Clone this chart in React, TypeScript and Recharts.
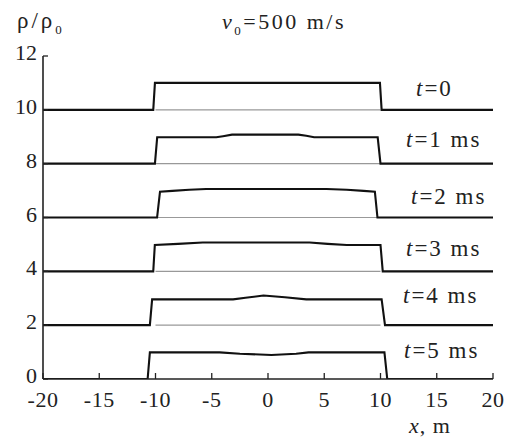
import React from "react";
import { LineChart, Line, XAxis, YAxis } from "recharts";

// x positions (m) and relative density values for each time
const x0 = [-20, -10.2, -10.05, 9.95, 10.1, 20];
const y0 = [10, 10, 11, 11, 10, 10];

const x1 = [-20, -10.05, -9.85, -4.6, -4.0, -3.2, 2.7, 3.4, 4.1, 9.75, 10.0, 20];
const y1 = [8, 8, 8.98, 8.98, 9.02, 9.08, 9.08, 9.04, 8.98, 8.98, 8, 8];

const x2 = [-20, -9.86, -9.6, -8.5, -7.0, -5.5, 5.2, 7.0, 8.5, 9.5, 9.73, 20];
const y2 = [6, 6, 6.96, 6.99, 7.03, 7.06, 7.06, 7.03, 6.99, 6.96, 6, 6];

const x3 = [-20, -10.2, -10.06, -8.0, -5.8, 3.7, 5.3, 7.0, 10.0, 10.2, 20];
const y3 = [4, 4, 4.98, 5.02, 5.07, 5.07, 5.02, 4.98, 4.98, 4, 4];

const x4 = [-20, -10.5, -10.3, -3.1, -2.0, -0.4, 1.5, 3.4, 10.1, 10.4, 20];
const y4 = [2, 2, 2.96, 2.96, 3.02, 3.1, 3.04, 2.96, 2.96, 2, 2];

const x5 = [-20, -10.7, -10.5, -4.3, -2.5, 0.3, 2.5, 3.6, 10.35, 10.6, 20];
const y5 = [0, 0, 0.99, 0.99, 0.94, 0.89, 0.94, 0.99, 0.99, 0, 0];

const seriesLabels = ["t=0", "t=1 ms", "t=2 ms", "t=3 ms", "t=4 ms", "t=5 ms"];
const xTicks = [-20, -15, -10, -5, 0, 5, 10, 15, 20];
const yTicks = [0, 2, 4, 6, 8, 10, 12];
const gridLevels = [2, 4, 6, 8, 10];
const gridX = [-10, 10];

const toPts = (xs: number[], ys: number[]) => xs.map((x, i) => ({ x, y: ys[i] }));
const series = [toPts(x0, y0), toPts(x1, y1), toPts(x2, y2), toPts(x3, y3), toPts(x4, y4), toPts(x5, y5)];
const gridSeries = gridLevels.map((g) => gridX.map((x) => ({ x, y: g })));

const FONT = "'Liberation Serif', 'Times New Roman', Tinos, serif";
const txt: React.CSSProperties = { fontFamily: FONT, fontSize: 22 };

const XTick = (props: any) => {
  const { x, y, payload } = props;
  return (
    <g>
      <line x1={x} x2={x} y1={y} y2={y - 6} stroke="#222" strokeWidth={1.3} />
      <text x={x} y={y + 28} textAnchor="middle" fontFamily={FONT} style={{ ...txt, letterSpacing: 0.5 }} fill="#222">
        {payload.value}
      </text>
    </g>
  );
};

const YTick = (props: any) => {
  const { x, y, payload } = props;
  return (
    <g>
      <line x1={x} x2={x + 5} y1={y} y2={y} stroke="#222" strokeWidth={1.3} />
      <text x={x - 6} y={y + 4} textAnchor="end" fontFamily={FONT} style={txt} fill="#222">
        {payload.value}
      </text>
    </g>
  );
};

const labelPos = [
  { x: 416, y: 96 },
  { x: 406, y: 147 },
  { x: 411, y: 204 },
  { x: 406, y: 256 },
  { x: 403, y: 303 },
  { x: 404, y: 358 },
];

export default function App() {
  return (
    <div style={{ position: "absolute", left: 0, top: 0, width: 514, height: 440, background: "#fff", fontFamily: FONT }}>
      <LineChart width={514} height={440} margin={{ top: 56, right: 21, left: 0, bottom: 0 }}>
        <XAxis
          type="number"
          dataKey="x"
          domain={[-20, 20]}
          ticks={xTicks}
          allowDataOverflow
          height={61}
          tickSize={0}
          tickMargin={0}
          tickLine={false}
          axisLine={{ stroke: "#222", strokeWidth: 1.6 }}
          tick={<XTick />}
        />
        <YAxis
          type="number"
          domain={[0, 12]}
          ticks={yTicks}
          allowDataOverflow
          width={43}
          tickSize={0}
          tickMargin={0}
          tickLine={false}
          axisLine={{ stroke: "#222", strokeWidth: 1.6 }}
          tick={<YTick />}
        />
        {gridSeries.map((d, i) => (
          <Line
            key={"g" + i}
            data={d}
            dataKey="y"
            type="linear"
            stroke="#999"
            strokeWidth={1.2}
            dot={false}
            isAnimationActive={false}
          />
        ))}
        {series.map((d, i) => (
          <Line
            key={i}
            data={d}
            dataKey="y"
            type="linear"
            stroke="#111"
            strokeWidth={2.1}
            dot={false}
            isAnimationActive={false}
          />
        ))}
      </LineChart>
      <svg width={514} height={440} style={{ position: "absolute", left: 0, top: 0, pointerEvents: "none" }}>
        <text x={17} y={28} fontFamily={FONT} style={{ ...txt, fontSize: 23, letterSpacing: 3 }} fill="#222">
          ρ/ρ<tspan style={{ fontSize: 13 }} dy={6}>0</tspan>
        </text>
        <text x={222} y={29} fontFamily={FONT} style={{ ...txt, letterSpacing: 2.5 }} fill="#222">
          <tspan style={{ fontStyle: "italic" }}>v</tspan>
          <tspan style={{ fontSize: 13 }} dy={6}>0</tspan>
          <tspan dy={-6}>=500 m/s</tspan>
        </text>
        {seriesLabels.map((s, i) => (
          <text key={s} x={labelPos[i].x} y={labelPos[i].y} fontFamily={FONT} style={{ ...txt, fontSize: 23, letterSpacing: 2 }} fill="#222">
            <tspan style={{ fontStyle: "italic" }}>{s.slice(0, 1)}</tspan>
            {s.slice(1)}
          </text>
        ))}
        <text x={409} y={433} fontFamily={FONT} style={{ ...txt, letterSpacing: 1 }} fill="#222">
          <tspan style={{ fontStyle: "italic" }}>x</tspan>, m
        </text>
      </svg>
    </div>
  );
}
